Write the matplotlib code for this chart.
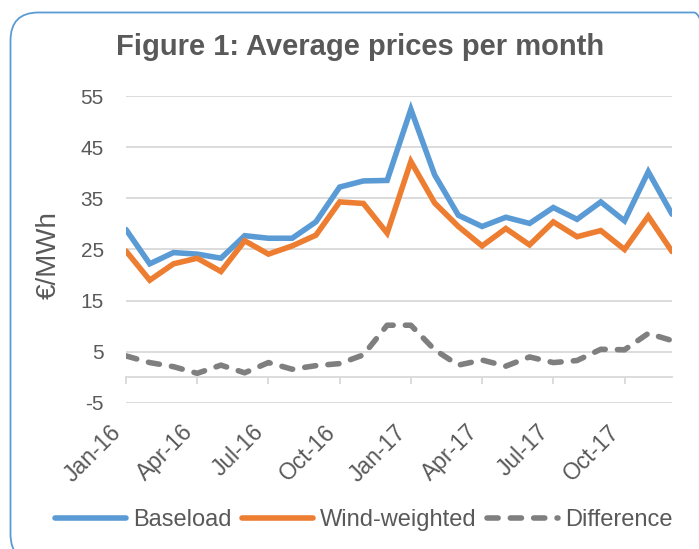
import matplotlib
matplotlib.use('Agg')
import matplotlib.pyplot as plt
from matplotlib.patches import FancyBboxPatch
from matplotlib.transforms import IdentityTransform

plt.rcParams['font.family'] = ['Liberation Sans', 'DejaVu Sans']

months = ['Jan-16', 'Feb-16', 'Mar-16', 'Apr-16', 'May-16', 'Jun-16', 'Jul-16', 'Aug-16',
          'Sep-16', 'Oct-16', 'Nov-16', 'Dec-16', 'Jan-17', 'Feb-17', 'Mar-17', 'Apr-17',
          'May-17', 'Jun-17', 'Jul-17', 'Aug-17', 'Sep-17', 'Oct-17', 'Nov-17', 'Dec-17']
baseload = [28.9, 22.2, 24.4, 24.1, 23.3, 27.7, 27.2, 27.2, 30.4, 37.2, 38.4, 38.5,
            52.4, 39.6, 31.7, 29.5, 31.3, 30.1, 33.2, 30.9, 34.3, 30.6, 40.2, 31.9]
wind_weighted = [24.7, 19.0, 22.2, 23.3, 20.7, 26.7, 24.1, 25.7, 27.8, 34.3, 34.0, 28.2,
                 42.2, 34.1, 29.5, 25.7, 29.1, 25.9, 30.4, 27.5, 28.7, 25.0, 31.5, 24.6]
difference = [4.2, 2.9, 2.1, 0.8, 2.4, 0.9, 2.9, 1.6, 2.3, 2.7, 4.4, 10.2,
              10.2, 5.4, 2.4, 3.4, 2.2, 4.0, 2.9, 3.3, 5.5, 5.4, 8.6, 7.2]
tick_labels = ['Jan-16', 'Apr-16', 'Jul-16', 'Oct-16', 'Jan-17', 'Apr-17', 'Jul-17', 'Oct-17']
y_ticks = [-5, 5, 15, 25, 35, 45, 55]

BLUE = '#5B9BD5'
ORANGE = '#ED7D31'
GRAY = '#7F7F7F'
TEXT = '#595959'
GRID = '#D9D9D9'

W, H = 699, 549
fig = plt.figure(figsize=(W / 100, H / 100), dpi=100)

# rounded border (pixel coordinates, origin bottom-left)
border = FancyBboxPatch((10.5, H - 562), 722 - 10.5, 562 - 12.5,
                        boxstyle='round,pad=0,rounding_size=28',
                        transform=IdentityTransform(), fill=False,
                        edgecolor=BLUE, linewidth=1.3, clip_on=False)
fig.patches.append(border)

ax = fig.add_axes([126 / W, 1 - 403 / H, (672 - 126) / W, (403 - 96) / H])
x = list(range(len(months)))
ax.plot(x, baseload, color=BLUE, lw=4, solid_capstyle='round', solid_joinstyle='miter', label='Baseload', zorder=3)
ax.plot(x, wind_weighted, color=ORANGE, lw=4, solid_capstyle='round', solid_joinstyle='miter', label='Wind-weighted', zorder=3)
ax.plot(x, difference, color=GRAY, lw=4, dashes=(2.0, 2.2), dash_capstyle='round', label='Difference', zorder=3)

ax.set_xlim(0, len(months) - 1)
ax.set_ylim(-5, 55)
ax.set_yticks(y_ticks)
ax.set_yticklabels([str(v) for v in y_ticks])
ax.grid(axis='y', color=GRID, lw=1.3)
ax.set_axisbelow(True)
for s in ['top', 'right', 'left']:
    ax.spines[s].set_visible(False)
ax.spines['bottom'].set_position(('data', 0))
ax.spines['bottom'].set_color(GRID)
ax.spines['bottom'].set_linewidth(1.3)
ax.tick_params(axis='y', length=0, pad=16, labelsize=15, labelcolor=TEXT)

ax.set_xticks([months.index(t) for t in tick_labels])
ax.set_xticklabels(tick_labels, rotation=45, ha='right')
ax.tick_params(axis='x', length=5, width=1.3, color=GRID, direction='out',
               pad=26, labelsize=16.5, labelcolor=TEXT)

fig.text(360 / W, 1 - 47 / H, 'Figure 1: Average prices per month', ha='center', va='center',
         fontsize=21, fontweight='bold', color=TEXT)
fig.text(49 / W, 1 - 255 / H, '€/MWh', rotation=90, ha='center', va='center',
         fontsize=20, color=TEXT)

leg = fig.legend(loc='center', bbox_to_anchor=(364 / W, 1 - 520 / H), ncol=3, frameon=False,
                 fontsize=17, handlelength=3.0, handletextpad=0.3, columnspacing=0.45,
                 labelcolor=TEXT)

fig.savefig('out.png', dpi=100)
